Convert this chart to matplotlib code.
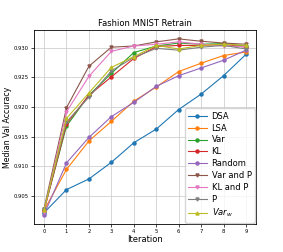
import numpy as np
import matplotlib
matplotlib.use("Agg")
from matplotlib import pyplot as plt

iterations = list(range(10))

dsa = [0.9022, 0.9061, 0.9079, 0.9107, 0.9140, 0.9163, 0.9196, 0.9222, 0.9253, 0.9289]
lsa = [0.9026, 0.9095, 0.9143, 0.9176, 0.9210, 0.9234, 0.9260, 0.9274, 0.9287, 0.9293]
var = [0.9027, 0.9168, 0.9220, 0.9257, 0.9292, 0.9303, 0.9308, 0.9306, 0.9307, 0.9303]
kl = [0.9025, 0.9172, 0.9220, 0.9251, 0.9282, 0.9302, 0.9304, 0.9304, 0.9306, 0.9301]
random_sel = [0.9019, 0.9106, 0.9149, 0.9184, 0.9208, 0.9235, 0.9253, 0.9266, 0.9279, 0.9296]
var_and_p = [0.9029, 0.9199, 0.9269, 0.9301, 0.9303, 0.9310, 0.9315, 0.9311, 0.9308, 0.9306]
kl_and_p = [0.9024, 0.9192, 0.9252, 0.9294, 0.9303, 0.9306, 0.9310, 0.9306, 0.9303, 0.9302]
p_only = [0.9028, 0.9175, 0.9217, 0.9261, 0.9284, 0.9299, 0.9296, 0.9301, 0.9304, 0.9298]
var_w = [0.9027, 0.9181, 0.9224, 0.9267, 0.9285, 0.9304, 0.9298, 0.9304, 0.9306, 0.9304]

series = [
    ("DSA", dsa, "o"),
    ("LSA", lsa, "o"),
    ("Var", var, "o"),
    ("KL", kl, "o"),
    ("Random", random_sel, "o"),
    ("Var and P", var_and_p, "v"),
    ("KL and P", kl_and_p, "v"),
    ("P", p_only, "v"),
    ("$Var_w$", var_w, "^"),
]


def main():
    fig = plt.figure(figsize=(2.83, 2.52), dpi=100)
    ax = fig.add_axes([0.12, 0.111, 0.785, 0.77])

    for name, vals, mk in series:
        ax.plot(iterations, vals, marker=mk, markersize=2.2, linewidth=0.8, label=name)

    ax.set_xticks(iterations)
    ax.set_yticks([0.905, 0.910, 0.915, 0.920, 0.925, 0.930])
    ax.set_ylim(0.9003, 0.9330)
    ax.tick_params(labelsize=3.8, length=2, width=0.5, pad=1.5)
    ax.grid(True, linewidth=0.6, color="#d0d0d0")
    for s in ax.spines.values():
        s.set_linewidth(0.6)

    ax.set_title("Fashion MNIST Retrain", fontsize=6, pad=3)
    ax.set_xlabel("Iteration", fontsize=6, labelpad=1)
    ax.set_ylabel("Median Val Accuracy", fontsize=5.7)
    ax.yaxis.set_label_coords(-0.1, 0.5)
    ax.legend(loc="lower right", fontsize=6, labelspacing=0.35, handlelength=2.2,
              borderpad=0.4, handletextpad=0.6, borderaxespad=0.15)

    fig.savefig("out.png", dpi=100)


if __name__ == '__main__':
    main()
